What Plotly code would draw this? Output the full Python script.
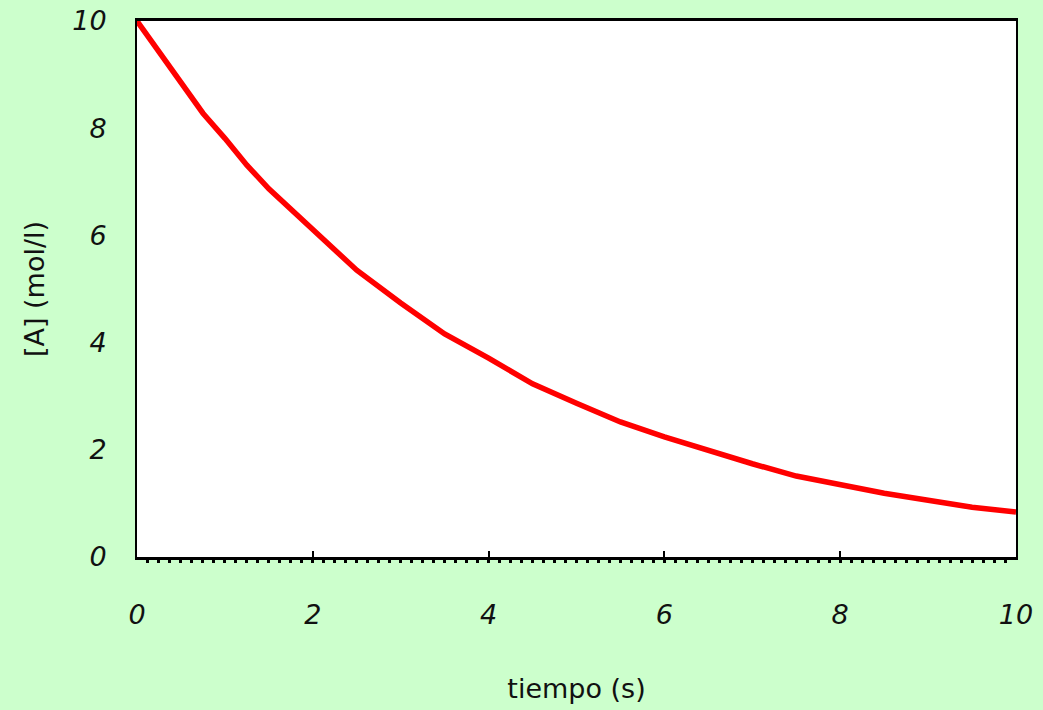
import plotly.graph_objects as go

tiempo = [0, 0.5, 0.75, 1, 1.25, 1.5, 2, 2.5, 3, 3.5, 4, 4.5, 5, 5.5, 6, 6.5, 7, 7.5, 8, 8.5, 9, 9.5, 10]
conc = [10.0, 8.84, 8.28, 7.81, 7.31, 6.87, 6.10, 5.35, 4.74, 4.16, 3.71, 3.23, 2.87, 2.52, 2.24, 1.98, 1.74, 1.51, 1.34, 1.19, 1.06, 0.93, 0.84]
x_ticks = [0, 2, 4, 6, 8, 10]
y_ticks = [0, 2, 4, 6, 8, 10]

font_family = "Comic Sans MS, DejaVu Sans, sans-serif"
tf = dict(family=font_family, size=27, style="italic", color="#111111")

fig = go.Figure()
fig.add_trace(go.Scatter(x=tiempo, y=conc, mode="lines",
                         line=dict(color="#FF0000", width=5.5), showlegend=False))

fig.update_layout(
    width=1043, height=710,
    paper_bgcolor="#CCFFCC", plot_bgcolor="#FFFFFF",
    margin=dict(l=137, r=27, t=21, b=153, autoexpand=False),
    font=dict(family=font_family, size=27, color="#111111"),
)
fig.update_xaxes(
    range=[0, 10], tickvals=x_ticks, showgrid=False, zeroline=False, automargin=False,
    showline=True, linecolor="#000000", linewidth=3, mirror=True,
    ticks="inside", ticklen=6, tickwidth=2, tickcolor="#000000",
    minor=dict(dtick=0.125, ticks="outside", ticklen=3, tickwidth=3, tickcolor="#000000", showgrid=False),
    ticklabelstandoff=32,
    tickfont=tf,
    title=dict(text="tiempo (s)", font=dict(family=font_family, size=27, color="#111111"), standoff=50),
)
fig.update_yaxes(
    range=[0, 10], tickvals=y_ticks, showgrid=False, zeroline=False, automargin=False,
    showline=True, linecolor="#000000", linewidth=2, mirror=True,
    ticks="", ticklabelstandoff=23,
    tickfont=tf,
    title=dict(text="[A] (mol/l)", font=dict(family=font_family, size=27, color="#111111"), standoff=20),
)

fig.write_html("out.html", config={"displayModeBar": False},
               post_script="document.body.style.margin='0';document.body.style.overflow='hidden';")
